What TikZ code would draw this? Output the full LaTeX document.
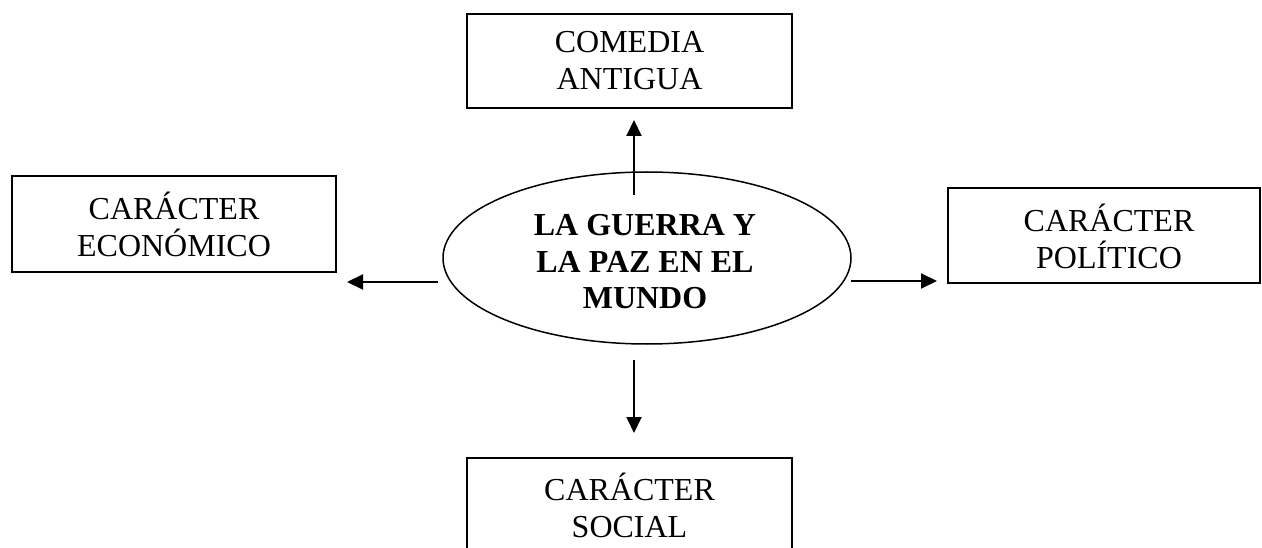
\documentclass[tikz,border=0pt]{standalone}
\usepackage{fontspec}
\setmainfont{Liberation Serif}
\usetikzlibrary{arrows.meta,shapes.geometric}
\tikzset{
  box/.style={draw, line width=1.8pt, rectangle, align=center, inner sep=0pt,
              font=\fontsize{32}{37}\selectfont},
  hub/.style={draw, line width=1.5pt, ellipse, align=center, inner sep=0pt,
              font=\fontsize{32}{36.5}\selectfont\bfseries},
  arr/.style={line width=2pt, -{Triangle[length=16pt,width=15pt]}}
}
\begin{document}
\begin{tikzpicture}[x=1pt,y=-1pt]
\useasboundingbox (0,0) rectangle (1262,548);
\clip (0,0) rectangle (1262,548);
\node[hub, minimum width=408pt, minimum height=172pt] (ell) at (647,258) {};
\node[font=\fontsize{32}{36.5}\selectfont\bfseries, align=center, inner sep=0pt] (hubtext) at (645,262) {LA GUERRA Y\\LA PAZ EN EL\\MUNDO};
\node[box, minimum width=325pt, minimum height=94pt] (top) at (629.5,61) {COMEDIA\\ANTIGUA};
\node[box, minimum width=324pt, minimum height=96pt] (left) at (174,224) {CARÁCTER\\ECONÓMICO};
\node[box, minimum width=312pt, minimum height=95pt] (right) at (1104,235.5) {};
\node[font=\fontsize{32}{37}\selectfont, align=center, inner sep=0pt] (righttext) at (1109,236) {CARÁCTER\\POLÍTICO};
\node[box, minimum width=325pt, minimum height=94pt] (bottom) at (629.5,505) {CARÁCTER\\SOCIAL};
\coordinate (upS) at (634,195);
\coordinate (upE) at (634,120);
\coordinate (leS) at (438,282);
\coordinate (leE) at (347,282);
\coordinate (riS) at (851,281);
\coordinate (riE) at (937,281);
\coordinate (dnS) at (634,360);
\coordinate (dnE) at (634,433);
\draw[arr] (upS) -- (upE);
\draw[arr] (leS) -- (leE);
\draw[arr] (riS) -- (riE);
\draw[arr] (dnS) -- (dnE);
\end{tikzpicture}
\end{document}
